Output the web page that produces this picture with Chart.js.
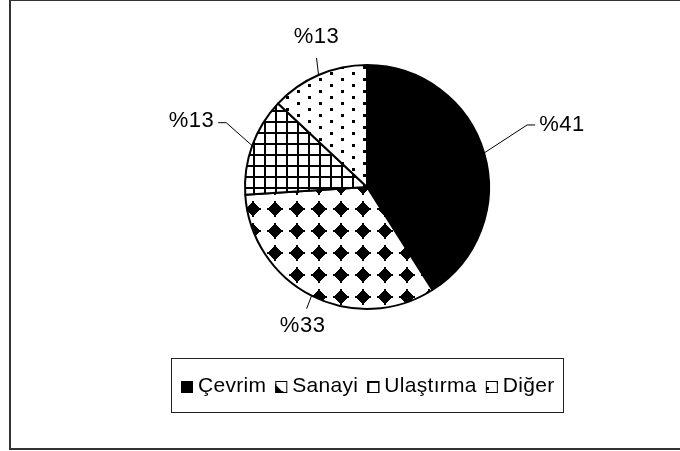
<!DOCTYPE html>
<html>
<head>
<meta charset="utf-8">
<script src="https://cdn.jsdelivr.net/npm/chart.js@4.4.1/dist/chart.umd.min.js"></script>
<style>
  html, body { margin: 0; padding: 0; background: #fff; }
  #wrap { width: 680px; height: 451px; }
</style>
</head>
<body>
<div id="wrap"><canvas id="pie" width="680" height="451"></canvas></div>
<script>
// data
const categories = ['Çevrim', 'Sanayi', 'Ulaştırma', 'Diğer'];
const shares = [41, 33, 13, 13];
const valueLabels = shares.map(v => '%' + v);

const FONT = '"Liberation Sans", Arial, sans-serif';

// leader line for each slice label: elbow offset from the arc, tail, text offset
const leaders = [
  {dx: 43, dy: -28, tail: 8, align: 'left', tx: 4, ty: 0},
  {dx: -5, dy: 13, tail: 0, align: 'center', tx: -4, ty: 17},
  {dx: -26, dy: -23, tail: -8, align: 'right', tx: -4, ty: -2},
  {dx: -2, dy: -17, tail: 0, align: 'center', tx: 0, ty: -21}
];

function makeTile(w, h, draw) {
  const c = document.createElement('canvas');
  c.width = w;
  c.height = h;
  const g = c.getContext('2d');
  g.fillStyle = '#fff';
  g.fillRect(0, 0, w, h);
  g.fillStyle = '#000';
  draw(g);
  return c;
}

const ctx = document.getElementById('pie').getContext('2d');

// stepped diamond with small tips, like the old hatch fills
const diamondTile = makeTile(22, 22, g => {
  for (let dy = -7; dy < 7; dy++) {
    const d = dy < 0 ? -dy - 1 : dy;
    const hw = Math.max(1, 7 - d);
    g.fillRect(11 - hw, 11 + dy, hw * 2, 1);
  }
  g.fillRect(10, 3, 2, 16);
  g.fillRect(3, 10, 16, 2);
});
const gridTile = makeTile(11, 11, g => {
  g.fillRect(0, 0, 11, 2);
  g.fillRect(0, 0, 2, 11);
});
const dotTile = makeTile(22, 12, g => {
  g.fillRect(0, 0, 3, 3);
  g.fillRect(11, 6, 3, 3);
});

const fills = [
  '#000',
  ctx.createPattern(diamondTile, 'repeat'),
  ctx.createPattern(gridTile, 'repeat'),
  ctx.createPattern(dotTile, 'repeat')
];

const framePlugin = {
  id: 'frame',
  beforeDraw(chart) {
    const c = chart.ctx;
    c.save();
    c.fillStyle = '#fff';
    c.fillRect(0, 0, chart.width, chart.height);
    c.strokeStyle = '#333';
    c.lineWidth = 2;
    c.strokeRect(10, 0, 700, 449);
    c.restore();
  }
};

const sliceLabels = {
  id: 'sliceLabels',
  afterDatasetsDraw(chart) {
    const c = chart.ctx;
    const meta = chart.getDatasetMeta(0);
    c.save();
    c.strokeStyle = '#000';
    c.lineWidth = 1;
    c.fillStyle = '#000';
    c.font = '22px ' + FONT;
    c.letterSpacing = '0.5px';
    c.textBaseline = 'middle';
    meta.data.forEach((arc, i) => {
      const p = arc.getProps(['x', 'y', 'startAngle', 'endAngle', 'outerRadius'], true);
      const mid = (p.startAngle + p.endAngle) / 2;
      const x0 = p.x + Math.cos(mid) * p.outerRadius;
      const y0 = p.y + Math.sin(mid) * p.outerRadius;
      const l = leaders[i];
      const x1 = x0 + l.dx, y1 = y0 + l.dy;
      const x2 = x1 + l.tail;
      c.beginPath();
      c.moveTo(x0, y0);
      c.lineTo(x1, y1);
      c.lineTo(x2, y1);
      c.stroke();
      c.textAlign = l.align;
      c.fillText(valueLabels[i], x2 + l.tx, y1 + l.ty);
    });
    c.restore();
  }
};

const boxLegend = {
  id: 'boxLegend',
  afterDraw(chart) {
    const c = chart.ctx;
    const box = {x: 171.5, y: 358.5, w: 392, h: 54};
    const mark = 12, markGap = 5, itemGap = 9;
    c.save();
    c.strokeStyle = '#222';
    c.lineWidth = 1;
    c.strokeRect(box.x, box.y, box.w, box.h);
    c.font = '21px ' + FONT;
    c.letterSpacing = '0.3px';
    c.textBaseline = 'middle';
    c.textAlign = 'left';
    const widths = categories.map(t => c.measureText(t).width);
    let total = 0;
    widths.forEach(w => { total += mark + markGap + w; });
    total += itemGap * (categories.length - 1);
    let x = Math.round(box.x + (box.w - total) / 2);
    const cy = box.y + box.h / 2 + 1;
    categories.forEach((t, i) => {
      const my = Math.round(cy - mark / 2);
      const f = fills[i];
      if (typeof f !== 'string') {
        f.setTransform(new DOMMatrix().translate(x - 11, my));
      }
      c.fillStyle = f;
      c.fillRect(x, my, mark, mark);
      if (typeof f !== 'string') f.setTransform(new DOMMatrix());
      c.strokeStyle = '#000';
      c.strokeRect(x + 0.5, my + 0.5, mark - 1, mark - 1);
      c.fillStyle = '#000';
      c.fillText(t, x + mark + markGap, cy);
      x += mark + markGap + widths[i] + itemGap;
    });
    c.restore();
  }
};

new Chart(ctx, {
  type: 'pie',
  data: {
    labels: categories,
    datasets: [{
      data: shares,
      backgroundColor: fills,
      borderColor: '#000',
      borderWidth: 2
    }]
  },
  options: {
    responsive: false,
    animation: false,
    layout: {
      padding: {top: 64, bottom: 141, left: 244, right: 190}
    },
    plugins: {
      legend: {display: false},
      tooltip: {enabled: false}
    }
  },
  plugins: [framePlugin, sliceLabels, boxLegend]
});
</script>
</body>
</html>
